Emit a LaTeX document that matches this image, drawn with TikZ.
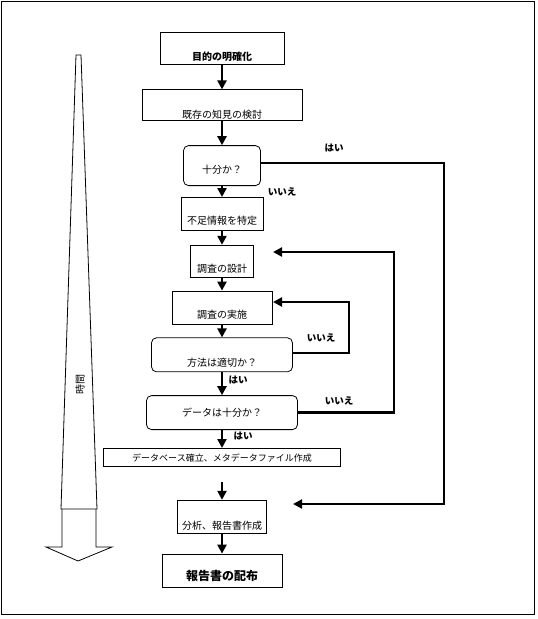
\documentclass[tikz,border=0pt]{standalone}
\usepackage{fontspec}
\setmainfont{Noto Sans CJK JP}
\usetikzlibrary{positioning}
\usetikzlibrary{arrows.meta}

\begin{document}
\begin{tikzpicture} [x=1pt, y=-1pt, thick,
        main/.style = {draw, line width=0.8pt, inner sep=0pt, font=\fontsize{10pt}{12pt}\selectfont},
        round/.style = {main, rounded corners=5pt},
        flow/.style = {line width=2.4pt, -{Triangle[width=9pt, length=9pt]}},
        lab/.style = {font=\fontsize{9.5pt}{11pt}\selectfont\bfseries}]
        \useasboundingbox (0,0) rectangle (538,619);
        \draw[line width=1.2pt] (1.5,1.5) rectangle (534.5,614.5);

        %Kaesten
        \node[main, minimum width=124pt, text height=28.8pt, text depth=3.2pt, font=\fontsize{10pt}{12pt}\selectfont\bfseries] (obj) at (222,48) {目的の明確化};
        \node[main, minimum width=160pt, text height=28.8pt, text depth=2.2pt] (known) [below = 25pt of obj] {既存の知見の検討};
        \node[round, minimum width=77pt, text height=27.8pt, text depth=12.2pt] (enough) [below = 24pt of known] {十分か？};
        \node[main, minimum width=82pt, text height=26.8pt, text depth=6.2pt] (lack) [below = 11pt of enough] {不足情報を特定};
        \node[main, minimum width=63pt, text height=26.8pt, text depth=5.2pt] (design) [below = 14pt of lack] {調査の設計};
        \node[main, minimum width=100pt, text height=27.8pt, text depth=5.2pt] (conduct) [below = 13pt of design] {調査の実施};
        \node[round, minimum width=141pt, text height=28.8pt, text depth=5.2pt] (method) [below = 13pt of conduct] {方法は適切か？};
        \node[round, minimum width=151pt, text height=20.8pt, text depth=13.2pt] (data) [below = 23pt of method] {データは十分か？};
        \node[main, minimum width=237pt, text height=13.4pt, text depth=4.6pt, font=\fontsize{9pt}{11pt}\selectfont] (db) [below = 18pt of data] {データベース確立、メタデータファイル作成};
        \node[main, minimum width=89pt, text height=28.8pt, text depth=4.2pt] (analysis) [below = 33pt of db] {分析、報告書作成};
        \node[main, minimum width=120pt, text height=26.6pt, text depth=6.4pt, font=\fontsize{12pt}{14pt}\selectfont\bfseries] (report) [below = 20pt of analysis] {報告書の配布};

        %Zeitpfeil
        \draw[line width=0.8pt] (76,55) -- (81,55) -- (97,509) -- (61,509) -- cycle;
        \draw[line width=0.8pt] (62,509) -- (62,547) -- (46,547) -- (78,561) -- (112,547) -- (96,547) -- (96,509);
        \node[rotate=90, font=\fontsize{10pt}{12pt}\selectfont] (time) at (80,384) {時間};

        %Pfeile
        \draw[flow] (obj) -- (known);
        \draw[flow] (known) -- (enough);
        \draw[flow] (enough) -- (lack);
        \draw[flow] (lack) -- (design);
        \draw[flow] (design) -- (conduct);
        \draw[flow] (conduct) -- (method);
        \draw[flow] (method) -- (data);
        \draw[flow] (data) -- (db);
        \draw[flow, shorten <=15pt] (db) -- (analysis);
        \draw[flow] (analysis) -- (report);

        %Rueckwege
        \coordinate (yestip) at (293,504);
        \coordinate (designtip) at (273,252);
        \coordinate (conducttip) at (273,302);
        \draw[flow, line width=2pt] ([yshift=3pt]enough.east) -- ++(183pt,0) |- (yestip);
        \draw[flow] (data.east) -- ++(96pt,0) |- (designtip);
        \draw[flow] ([yshift=2pt]method.east) -- ++(56pt,0) |- (conducttip);

        %Beschriftungen
        \node[lab] (yes1) at (334,148) {はい};
        \node[lab] (no1) at (282,192) {いいえ};
        \node[lab] (no2) at (321,338) {いいえ};
        \node[lab] (yes2) at (238,380) {はい};
        \node[lab] (no3) at (339,401) {いいえ};
        \node[lab] (yes3) at (243,436) {はい};
    \end{tikzpicture}
\end{document}
